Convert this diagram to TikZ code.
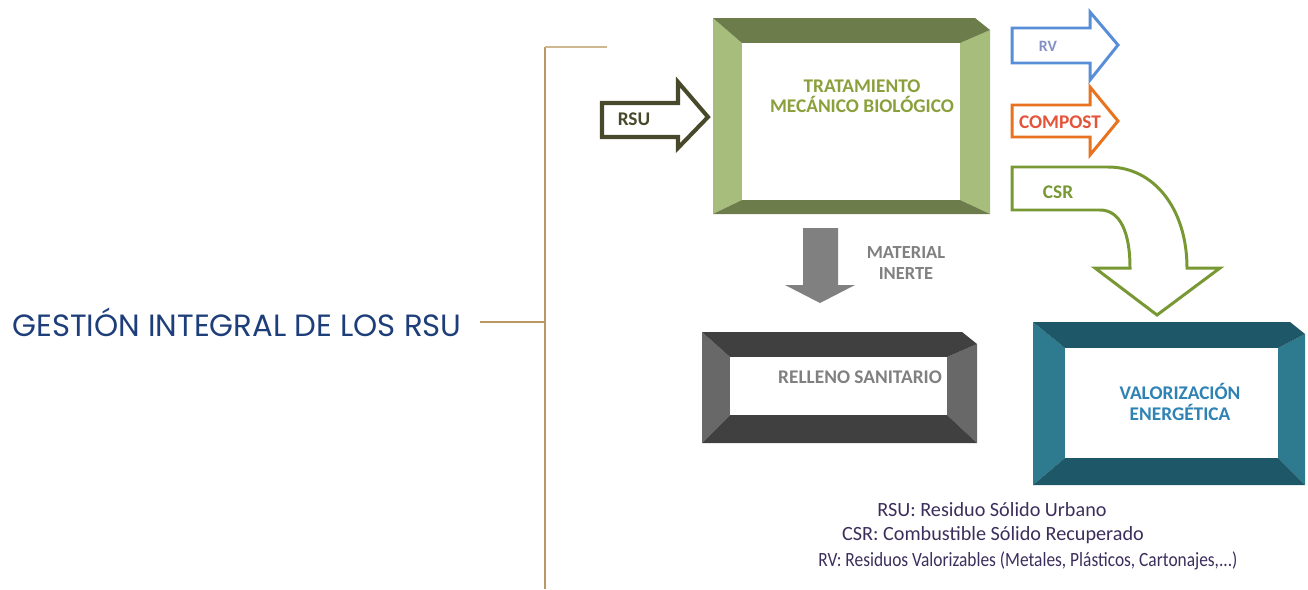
\documentclass[tikz,border=0pt]{standalone}
\usepackage{fontspec}
\setmainfont{Carlito}
\newfontfamily\titlefont{Poppins}
\usepackage{tikz}
\usetikzlibrary{calc}
\definecolor{tmbSide}{RGB}{166, 189, 124}
\definecolor{tmbTop}{RGB}{108, 124, 75}
\definecolor{tmbInk}{RGB}{138, 160, 58}
\definecolor{rsuInk}{RGB}{72, 72, 42}
\definecolor{rvBlue}{RGB}{88, 142, 216}
\definecolor{rvInk}{RGB}{132, 144, 196}
\definecolor{compostOrange}{RGB}{232, 114, 30}
\definecolor{compostInk}{RGB}{228, 84, 58}
\definecolor{csrGreen}{RGB}{120, 152, 52}
\definecolor{inerteGray}{RGB}{128, 128, 128}
\definecolor{rellenoSide}{RGB}{104, 104, 104}
\definecolor{rellenoTop}{RGB}{64, 64, 64}
\definecolor{valSide}{RGB}{46, 122, 142}
\definecolor{valTop}{RGB}{30, 88, 104}
\definecolor{valInk}{RGB}{46, 130, 180}
\definecolor{legendInk}{RGB}{60, 46, 92}
\definecolor{titleBlue}{RGB}{30, 62, 122}
\definecolor{bracketTan}{RGB}{186, 152, 100}

% 3D frame: outer corners, inner corners, side colour, top colour
\newcommand{\bevelbox}[6]{%
  \coordinate (O1) at #1; \coordinate (O2) at #2;
  \coordinate (I1) at #3; \coordinate (I2) at #4;
  \fill[#5] (O1) -- (I1) -- (I1|-I2) -- (O1|-O2) -- cycle;
  \fill[#5] ($(O2|-O1)+(0,12)$) -- (O2) -- (I2) -- (I2|-I1) -- cycle;
  \fill[#6] (O1) -- ($(O2|-O1)+(-15,0)$) -- ($(O2|-O1)+(0,12)$) -- (I2|-I1) -- (I1) -- cycle;
  \fill[#6] (O1|-O2) -- (O2) -- (I2) -- (I1|-I2) -- cycle;
  \fill[white] (I1) rectangle (I2);
}

\begin{document}
\begin{tikzpicture}[x=0.02cm, y=-0.02cm,
    lbl/.style={font=\fontsize{11}{11.5}\selectfont\bfseries, align=center, inner sep=0pt},
    legend/.style={font=\fontsize{11.5}{14}\selectfont, text=legendInk, inner sep=0pt},
    bracket/.style={line width=1.1pt, draw=bracketTan}]
  \useasboundingbox (0,0) rectangle (1308,589);

  % Title and bracket
  \node[font=\titlefont\fontsize{17.5}{20}\selectfont, text=titleBlue, inner sep=0pt] (title) at (237,322) {GESTIÓN INTEGRAL DE LOS RSU};
  \coordinate (brkL) at (480,322);
  \coordinate (brkM) at (545,322);
  \coordinate (brkTop) at (545,47);
  \coordinate (brkEnd) at (607,47);
  \coordinate (brkBot) at (545,589);
  \draw[bracket] (brkL) -- (brkM);
  \draw[bracket] (brkBot) -- (brkTop);
  \draw[bracket, draw=bracketTan!70] (brkTop) -- (brkEnd);

  % Boxes
  \bevelbox{(713,18)}{(990,214)}{(742,43)}{(960,200)}{tmbSide}{tmbTop}
  \node[lbl, text=tmbInk] (tmb) at (862,96) {TRATAMIENTO\\MECÁNICO BIOLÓGICO};
  \bevelbox{(702,332)}{(977,443)}{(730,357)}{(947,415)}{rellenoSide}{rellenoTop}
  \node[lbl, text=inerteGray] (relleno) at (860,377) {RELLENO SANITARIO};
  \bevelbox{(1033,322)}{(1305,485)}{(1065,348)}{(1278,458)}{valSide}{valTop}
  \node[lbl, text=valInk] (val) at (1180,402) {VALORIZACIÓN\\ENERGÉTICA};

  % Block arrows
  \draw[line width=2.3pt, draw=rsuInk, fill=white, line join=miter]
    (602,103) -- (678,103) -- (678,82) -- (708,117) -- (678,148) -- (678,137) -- (602,137) -- cycle;
  \node[lbl, text=rsuInk] (rsu) at (634,119) {RSU};
  \draw[line width=1.7pt, draw=rvBlue, fill=white]
    (1012,28) -- (1090,28) -- (1090,12) -- (1118,45) -- (1090,80) -- (1090,63) -- (1012,63) -- cycle;
  \node[lbl, text=rvInk, font=\fontsize{9}{11}\selectfont\bfseries] (rv) at (1048,46) {RV};
  \draw[line width=1.7pt, draw=compostOrange, fill=white]
    (1012,105) -- (1090,105) -- (1090,87) -- (1118,121) -- (1090,155) -- (1090,137) -- (1012,137) -- cycle;
  \node[lbl, text=compostInk] (compost) at (1060,122) {COMPOST};
  \draw[line width=1.7pt, draw=csrGreen, fill=white]
    (1012,167) -- (1108,167) .. controls (1155,167) and (1187,210) .. (1187,268)
    -- (1220,268) -- (1157,315) -- (1095,268) -- (1130,268)
    .. controls (1130,232) and (1120,210) .. (1100,210) -- (1012,210) -- cycle;
  \node[lbl, text=csrGreen] (csr) at (1058,192) {CSR};
  \fill[inerteGray]
    (803,228) -- (838,228) -- (838,285) -- (855,285) -- (820,303) -- (785,285) -- (803,285) -- cycle;
  \node[lbl, text=inerteGray, font=\fontsize{10.5}{11.5}\selectfont\bfseries] (inerte) at (906,263) {MATERIAL\\INERTE};

  % Legend
  \node[legend] (leg1) at (992,510) {RSU: Residuo Sólido Urbano};
  \node[legend] (leg2) at (993,535) {CSR: Combustible Sólido Recuperado};
  \node[legend, xscale=0.86] (leg3) at (1028,561) {RV: Residuos Valorizables (Metales, Plásticos, Cartonajes,...)};
\end{tikzpicture}
\end{document}
